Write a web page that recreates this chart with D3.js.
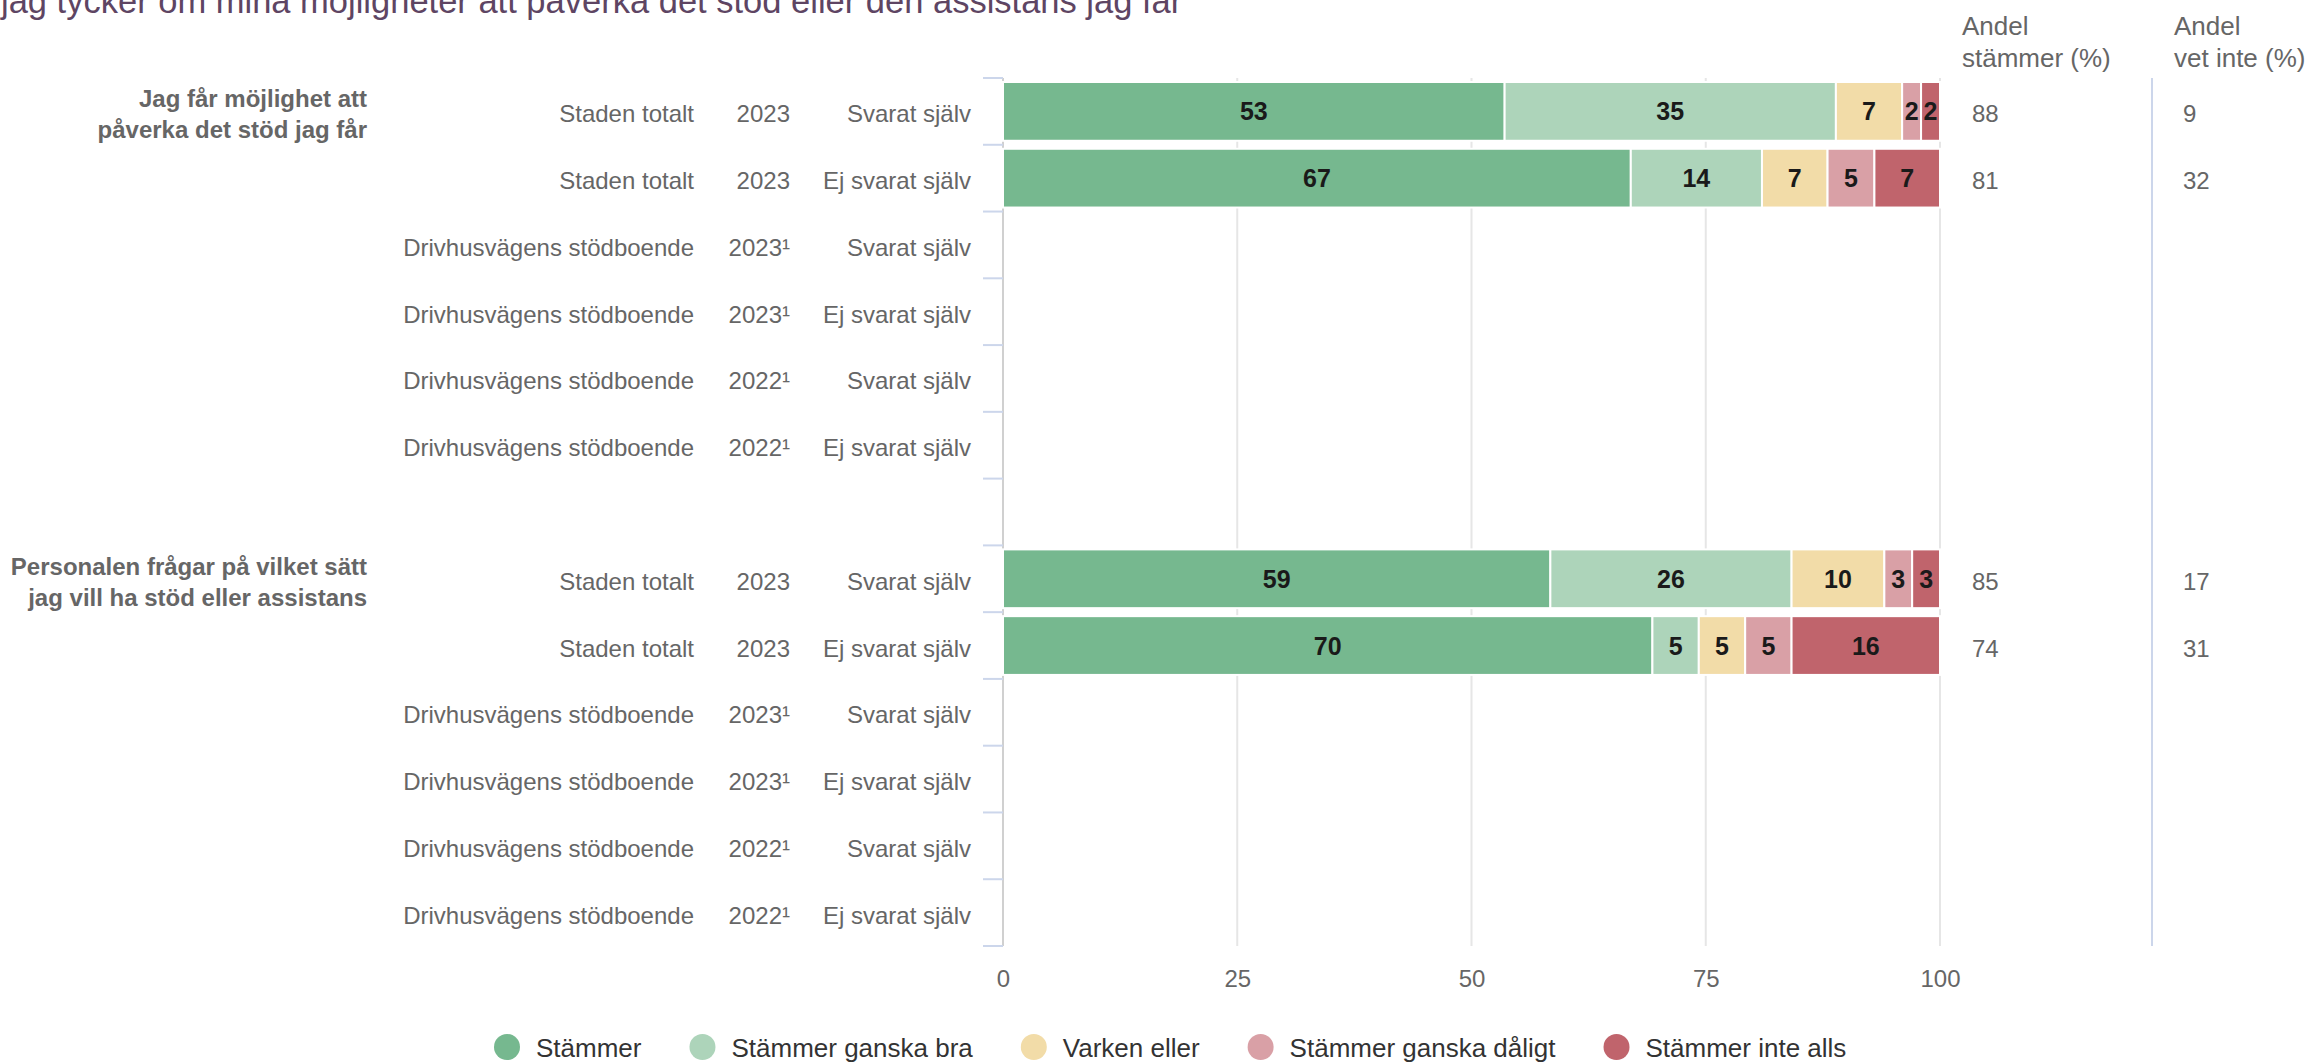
<!DOCTYPE html>
<html>
<head>
<meta charset="utf-8">
<script src="https://cdn.jsdelivr.net/npm/d3@7"></script>
<style>
  html, body { margin: 0; padding: 0; background: #fff; }
  svg { display: block; font-family: "Liberation Sans", Arial, sans-serif; }
</style>
</head>
<body>
<svg id="chart" width="2310" height="1064"></svg>
<script>
// data
const title = "jag tycker om mina möjligheter att påverka det stöd eller den assistans jag får";

const questions = [
  ["Jag får möjlighet att", "påverka det stöd jag får"],
  ["Personalen frågar på vilket sätt", "jag vill ha stöd eller assistans"]
];

const units = ["Staden totalt", "Staden totalt", "Drivhusvägens stödboende", "Drivhusvägens stödboende", "Drivhusvägens stödboende", "Drivhusvägens stödboende"];
const years = ["2023", "2023", "2023¹", "2023¹", "2022¹", "2022¹"];
const respondents = ["Svarat själv", "Ej svarat själv", "Svarat själv", "Ej svarat själv", "Svarat själv", "Ej svarat själv"];

const seriesNames = ["Stämmer", "Stämmer ganska bra", "Varken eller", "Stämmer ganska dåligt", "Stämmer inte alls"];
const seriesColors = ["#76b88f", "#add4ba", "#f2dca8", "#d9a0a6", "#c0646c"];

// 12 rows: 6 per question
const stammer       = [53, 67, null, null, null, null, 59, 70, null, null, null, null];
const ganskaBra     = [35, 14, null, null, null, null, 26, 5, null, null, null, null];
const varkenEller   = [7, 7, null, null, null, null, 10, 5, null, null, null, null];
const ganskaDaligt  = [2, 5, null, null, null, null, 3, 5, null, null, null, null];
const inteAlls      = [2, 7, null, null, null, null, 3, 16, null, null, null, null];

const andelStammer  = [88, 81, null, null, null, null, 85, 74, null, null, null, null];
const andelVetInte  = [9, 32, null, null, null, null, 17, 31, null, null, null, null];

const xTicks = [0, 25, 50, 75, 100];

class StackedChart {
  constructor() {
    this.svg = d3.select("#chart");
    this.x = d3.scaleLinear().domain([0, 100]).range([1003, 1940]);

    // one spacer band between the two questions
    this.rows = [];
    questions.forEach((q, qi) => {
      if (qi > 0) this.rows.push({ key: "gap" + qi, spacer: true });
      units.forEach((u, i) => {
        this.rows.push({ key: qi + "-" + i, q: qi, i: i, idx: qi * units.length + i });
      });
    });

    this.y = d3.scaleBand()
      .domain(this.rows.map(d => d.key))
      .range([78, 946])
      .paddingInner(0.12)
      .paddingOuter(0.06);
  }

  drawTitle() {
    this.svg.append("text")
      .attr("x", 1)
      .attr("y", 13)
      .attr("fill", "#5e4563")
      .style("font-size", "34.5px")
      .text(title);
  }

  drawGrid() {
    let g = this.svg.append("g").attr("class", "grid");
    g.selectAll("line")
      .data(xTicks.slice(1))
      .enter()
      .append("line")
      .attr("x1", d => this.x(d))
      .attr("x2", d => this.x(d))
      .attr("y1", 78)
      .attr("y2", 946)
      .attr("stroke", "#e6e6e6")
      .attr("stroke-width", 2)
    ;

    // x axis labels
    let xAxis = d3.axisBottom(this.x).tickValues(xTicks).tickSize(0).tickPadding(0);
    let ax = this.svg.append("g")
      .attr("transform", "translate(0,970)")
      .call(xAxis);
    ax.select(".domain").remove();
    ax.selectAll("text")
      .attr("fill", "#666")
      .attr("dy", "0.71em")
      .style("font-size", "24px")
      .style("font-family", "'Liberation Sans', Arial, sans-serif");

    // category axis line and band ticks
    let step = this.y.step();
    let y0 = this.y.range()[0];
    let bounds = d3.range(this.rows.length + 1).map(i => y0 + i * step);
    this.svg.append("line")
      .attr("x1", 1003).attr("x2", 1003)
      .attr("y1", 78).attr("y2", 946)
      .attr("stroke", "#d0d0d0")
      .attr("stroke-width", 2);
    this.svg.append("g").selectAll("line")
      .data(bounds)
      .enter()
      .append("line")
      .attr("x1", 983).attr("x2", 1003)
      .attr("y1", d => d).attr("y2", d => d)
      .attr("stroke", "#ccd6eb")
      .attr("stroke-width", 2)
    ;

    // separator between the two table columns
    this.svg.append("line")
      .attr("x1", 2152).attr("x2", 2152)
      .attr("y1", 78).attr("y2", 946)
      .attr("stroke", "#ccd6eb")
      .attr("stroke-width", 2);
  }

  drawLabels() {
    let rows = this.rows.filter(d => !d.spacer);
    let cy = d => this.y(d.key) + this.y.bandwidth() / 2;
    let cols = [
      { x: 694, get: d => units[d.i] },
      { x: 790, get: d => years[d.i] },
      { x: 971, get: d => respondents[d.i] }
    ];
    cols.forEach(c => {
      this.svg.append("g").selectAll("text")
        .data(rows)
        .enter()
        .append("text")
        .attr("x", c.x)
        .attr("y", d => cy(d) + 11)
        .attr("text-anchor", "end")
        .attr("fill", "#666")
        .style("font-size", "24px")
        .text(c.get)
      ;
    });

    // question labels next to their first row
    questions.forEach((q, qi) => {
      let first = rows.find(d => d.q === qi);
      let t = this.svg.append("text")
        .attr("text-anchor", "end")
        .attr("fill", "#666")
        .style("font-size", "24px")
        .style("font-weight", "bold");
      q.forEach((line, li) => {
        t.append("tspan")
          .attr("x", 367)
          .attr("y", cy(first) - 4 + li * 31)
          .text(line);
      });
    });

    // right side table
    let heads = [
      { x: 1962, vx: 1972, lines: ["Andel", "stämmer (%)"], vals: andelStammer },
      { x: 2174, vx: 2183, lines: ["Andel", "vet inte (%)"], vals: andelVetInte }
    ];
    heads.forEach(h => {
      h.lines.forEach((line, li) => {
        this.svg.append("text")
          .attr("x", h.x)
          .attr("y", 35 + li * 32)
          .attr("fill", "#666")
          .style("font-size", "26px")
          .text(line);
      });
      this.svg.append("g").selectAll("text")
        .data(rows.filter(d => h.vals[d.idx] != null))
        .enter()
        .append("text")
        .attr("x", h.vx)
        .attr("y", d => cy(d) + 11)
        .attr("fill", "#666")
        .style("font-size", "24px")
        .text(d => h.vals[d.idx])
      ;
    });
  }

  drawBars() {
    let table = this.rows.filter(d => !d.spacer).map(d => ({
      key: d.key,
      s0: stammer[d.idx], s1: ganskaBra[d.idx], s2: varkenEller[d.idx],
      s3: ganskaDaligt[d.idx], s4: inteAlls[d.idx]
    })).filter(d => d.s0 != null);

    let keys = ["s0", "s1", "s2", "s3", "s4"];
    let stack = d3.stack().keys(keys).offset(d3.stackOffsetExpand);
    let layers = stack(table);

    let g = this.svg.append("g").attr("class", "bars");
    layers.forEach((layer, li) => {
      let lg = g.append("g");
      lg.selectAll("rect")
        .data(layer)
        .enter()
        .append("rect")
        .attr("x", d => this.x(d[0] * 100))
        .attr("width", d => this.x(d[1] * 100) - this.x(d[0] * 100))
        .attr("y", d => this.y(d.data.key))
        .attr("height", this.y.bandwidth())
        .attr("fill", seriesColors[li])
        .attr("stroke", "#fff")
        .attr("stroke-width", 2)
      ;
      lg.selectAll("text")
        .data(layer)
        .enter()
        .append("text")
        .attr("x", d => (this.x(d[0] * 100) + this.x(d[1] * 100)) / 2)
        .attr("y", d => this.y(d.data.key) + this.y.bandwidth() / 2 + 9)
        .attr("text-anchor", "middle")
        .attr("fill", "#1a1a1a")
        .style("font-size", "25px")
        .style("font-weight", "bold")
        .text(d => d.data[keys[li]])
      ;
    });
  }

  drawLegend() {
    let g = this.svg.append("g").attr("class", "legend");
    let cx = 507;
    seriesNames.forEach((name, i) => {
      g.append("circle")
        .attr("cx", cx)
        .attr("cy", 1047)
        .attr("r", 13)
        .attr("fill", seriesColors[i]);
      let t = g.append("text")
        .attr("x", cx + 29)
        .attr("y", 1057)
        .attr("fill", "#333")
        .style("font-size", "26px")
        .text(name);
      cx = cx + 29 + t.node().getComputedTextLength() + 61;
    });
  }
}

let chart = new StackedChart();
chart.drawGrid();
chart.drawBars();
chart.drawLabels();
chart.drawLegend();
chart.drawTitle();
</script>
</body>
</html>
